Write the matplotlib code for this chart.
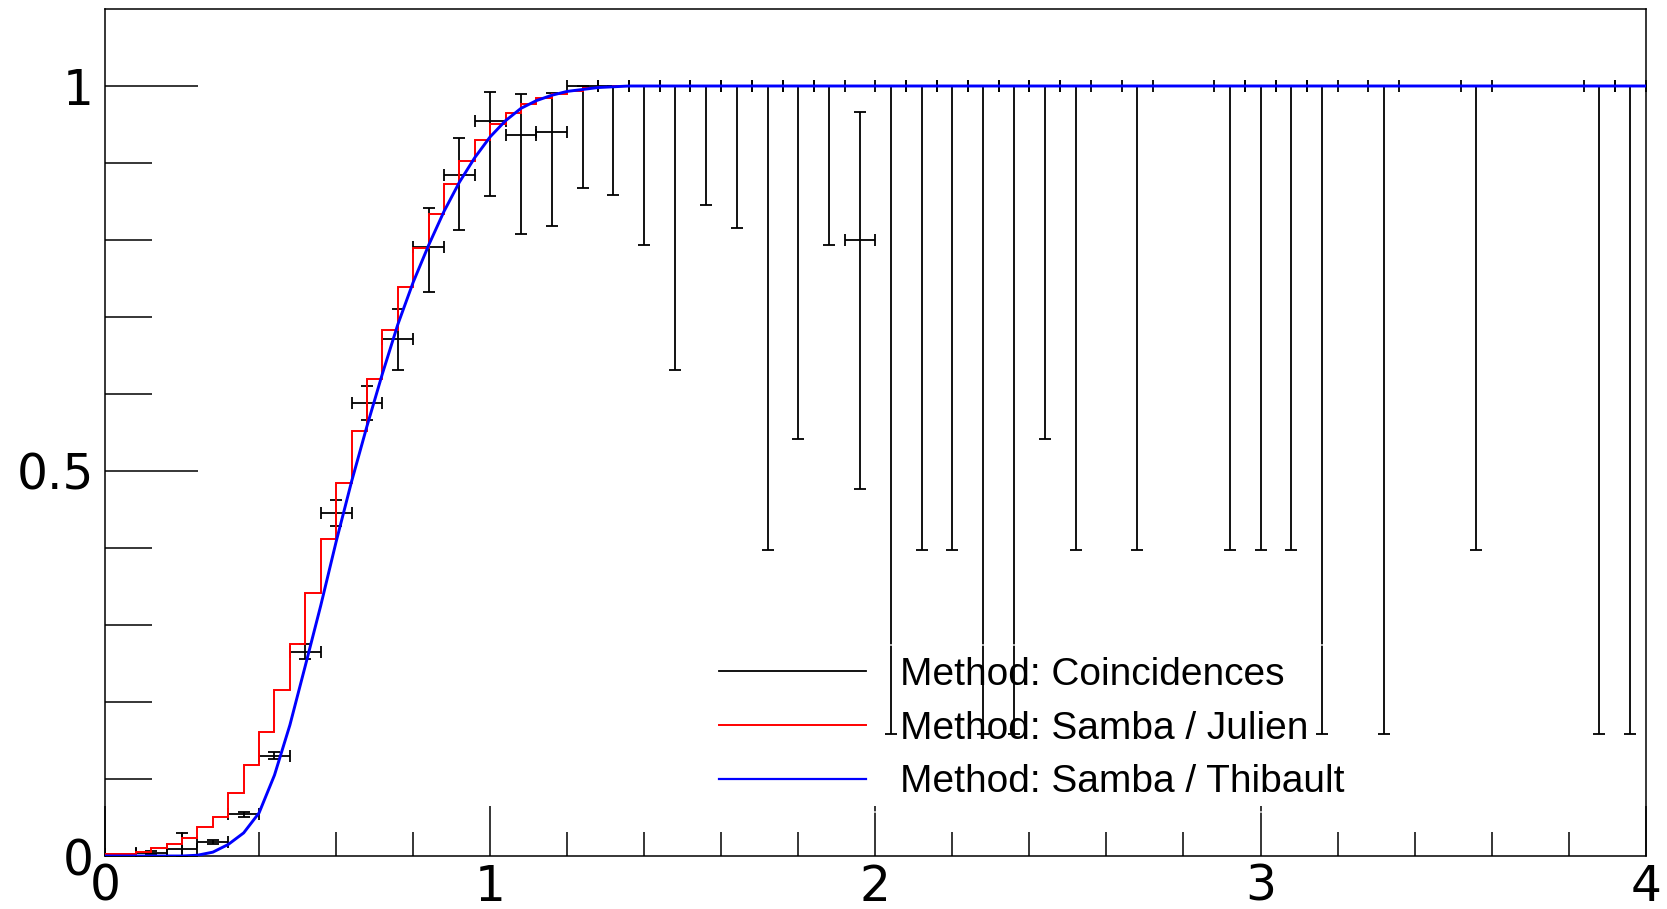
import numpy as np
import matplotlib
matplotlib.use('Agg')
from matplotlib import pyplot as plt
from matplotlib.lines import Line2D

# black points: Coincidences (bin centres, value, lower / upper bound)
coinc_x = [0.04, 0.12, 0.20, 0.28, 0.36, 0.44, 0.52, 0.60, 0.68, 0.76, 0.84, 0.92,
           1.00, 1.08, 1.16, 1.24, 1.32, 1.40, 1.48, 1.56, 1.64, 1.72, 1.80, 1.88,
           1.96, 2.04, 2.12, 2.20, 2.28, 2.36, 2.44, 2.52, 2.68, 2.92, 3.00, 3.08,
           3.16, 3.32, 3.56, 3.88, 3.96]
coinc_y = [0.002, 0.004, 0.009, 0.018, 0.054, 0.130, 0.265, 0.446, 0.588, 0.672, 0.791, 0.884,
           0.954, 0.937, 0.940, 1, 1, 1, 1, 1, 1, 1, 1, 1,
           0.800, 1, 1, 1, 1, 1, 1, 1, 1, 1, 1, 1,
           1, 1, 1, 1, 1]
coinc_lo = [0.001, 0.002, 0.0, 0.016, 0.051, 0.126, 0.256, 0.428, 0.566, 0.631, 0.733, 0.813,
            0.857, 0.808, 0.818, 0.868, 0.858, 0.794, 0.631, 0.846, 0.815, 0.398, 0.541, 0.794,
            0.476, 0.159, 0.398, 0.398, 0.159, 0.159, 0.541, 0.398, 0.398, 0.398, 0.398, 0.398,
            0.159, 0.159, 0.398, 0.159, 0.159]
coinc_hi = [0.003, 0.006, 0.030, 0.021, 0.057, 0.135, 0.275, 0.462, 0.610, 0.711, 0.841, 0.932,
            0.992, 0.989, 0.991, 1, 1, 1, 1, 1, 1, 1, 1, 1,
            0.966, 1, 1, 1, 1, 1, 1, 1, 1, 1, 1, 1,
            1, 1, 1, 1, 1]

# red histogram: Samba / Julien, bins of 0.04
julien_edges = np.linspace(0, 4, 101)
julien_vals = [0.002, 0.003, 0.005, 0.010, 0.015, 0.024, 0.038, 0.051, 0.082, 0.118,
               0.161, 0.215, 0.275, 0.342, 0.412, 0.484, 0.552, 0.620, 0.683, 0.739,
               0.790, 0.834, 0.873, 0.903, 0.930, 0.951, 0.965, 0.977, 0.985, 0.990,
               0.994, 0.997, 0.999] + [1.0] * 67

# blue curve: Samba / Thibault
thib_x = [0, 0.20, 0.24, 0.28, 0.32, 0.36, 0.40, 0.44, 0.48, 0.52, 0.56, 0.60, 0.64,
          0.68, 0.72, 0.76, 0.80, 0.84, 0.88, 0.92, 0.96, 1.00, 1.04, 1.08, 1.12,
          1.16, 1.20, 1.28, 1.36, 4.0]
thib_y = [0, 0, 0.001, 0.005, 0.015, 0.030, 0.056, 0.105, 0.170, 0.247, 0.325, 0.408, 0.486,
          0.558, 0.626, 0.690, 0.745, 0.793, 0.837, 0.875, 0.907, 0.934, 0.955, 0.971, 0.981,
          0.988, 0.993, 0.998, 1.0, 1.0]

labels = ['Method: Coincidences', 'Method: Samba / Julien', 'Method: Samba / Thibault']

fig = plt.figure(figsize=(16.67, 9.09), dpi=100)
ax = fig.add_axes([105 / 1667, 53 / 909, 1540.7 / 1667, 847 / 909])

cy = np.array(coinc_y)
yerr = [cy - np.array(coinc_lo), np.array(coinc_hi) - cy]
ax.errorbar(coinc_x, coinc_y, xerr=0.04, yerr=yerr, fmt='none', ecolor='black',
            elinewidth=1.3, capsize=4.5, capthick=1.3, zorder=2)
ax.stairs(julien_vals, julien_edges, baseline=None, color='red', linewidth=1.4, zorder=3)
ax.plot(thib_x, thib_y, color='blue', linewidth=2.1, zorder=4)

ax.set_xlim(0, 4)
ax.set_ylim(0, 1.1)
ax.set_xticks([0, 1, 2, 3, 4])
ax.set_xticklabels(['0', '1', '2', '3', '4'])
ax.set_xticks(np.arange(0, 4.01, 0.2), minor=True)
ax.set_yticks([0, 0.5, 1])
ax.set_yticklabels(['0', '0.5', '1'])
ax.set_yticks(np.arange(0, 1.01, 0.1), minor=True)

ax.tick_params(axis='both', which='both', direction='in', top=False, right=False,
               width=1.1, labelsize=35)
ax.tick_params(axis='y', which='major', length=67, pad=8)
ax.tick_params(axis='y', which='minor', length=34)
ax.tick_params(axis='x', which='major', length=36, pad=5)
ax.tick_params(axis='x', which='minor', length=17)
for lab in ax.get_xticklabels() + ax.get_yticklabels():
    lab.set_family('DejaVu Sans')
for sp in ax.spines.values():
    sp.set_linewidth(1.1)

handles = [Line2D([], [], color='black', linewidth=1.3),
           Line2D([], [], color='red', linewidth=1.4),
           Line2D([], [], color='blue', linewidth=1.6)]
leg = ax.legend(handles, labels, loc='upper left', bbox_to_anchor=(707 / 1667, 1 - 645 / 909),
                bbox_transform=fig.transFigure, borderaxespad=0, borderpad=0.3,
                handlelength=3.8, handletextpad=0.85, labelspacing=0.46,
                prop={'family': ['Liberation Sans', 'DejaVu Sans'], 'size': 28},
                fancybox=False, frameon=True)
leg.get_frame().set_facecolor('none')
leg.get_frame().set_edgecolor('white')
leg.get_frame().set_linewidth(1.2)

fig.savefig('out.png', dpi=100)
